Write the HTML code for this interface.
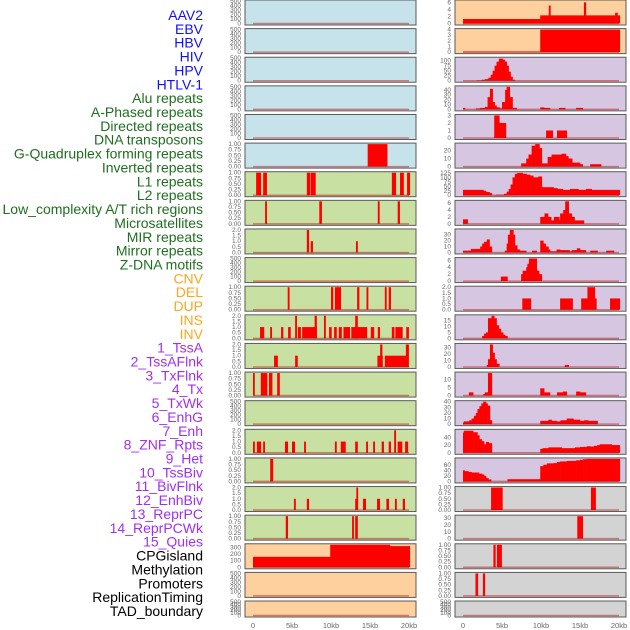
<!DOCTYPE html>
<html><head><meta charset="utf-8"><style>
html,body{margin:0;padding:0;background:#fff;}
svg{display:block;font-family:"Liberation Sans",sans-serif;}
</style></head><body>
<svg id="chart" width="630" height="630" viewBox="0 0 630 630"></svg>
<script>
// ---------- data ----------
const labelNames = ["AAV2","EBV","HBV","HIV","HPV","HTLV-1","Alu repeats","A-Phased repeats","Directed repeats","DNA transposons","G-Quadruplex forming repeats","Inverted repeats","L1 repeats","L2 repeats","Low_complexity A/T rich regions","Microsatellites","MIR repeats","Mirror repeats","Z-DNA motifs","CNV","DEL","DUP","INS","INV","1_TssA","2_TssAFlnk","3_TxFlnk","4_Tx","5_TxWk","6_EnhG","7_Enh","8_ZNF_Rpts","9_Het","10_TssBiv","11_BivFlnk","12_EnhBiv","13_ReprPC","14_ReprPCWk","15_Quies","CPGisland","Methylation","Promoters","ReplicationTiming","TAD_boundary"];
const labelGroups = [0,0,0,0,0,0,1,1,1,1,1,1,1,1,1,1,1,1,1,2,2,2,2,2,3,3,3,3,3,3,3,3,3,3,3,3,3,3,3,4,4,4,4,4];
const groupColors = ["#1010ff","#1f6f1f","#ffa520","#a030f0","#000000"];
const xTickLabels = ["0","5kb","10kb","15kb","20kb"];
const xTickValues = [0,5,10,15,20];

const ticksEmpty = ["0","100","200","300","400","500"];
const ticksUnit = ["0.00","0.25","0.50","0.75","1.00"];
const ticksTwo = ["0.0","0.5","1.0","1.5","2.0"];

// left column segments [startKb, endKb, value]
const segHTLV = [[14.7,17.2,1]];
const segAlu = [[0.4,1.0,1],[1.3,1.75,1],[6.9,7.3,1],[7.4,8.0,1],[17.8,18.3,1],[18.85,19.3,1],[19.75,20.1,1]];
const segAPhased = [[1.55,1.75,1],[8.5,8.8,1],[16.0,16.2,1],[18.55,18.8,1]];
const segDirected = [[6.9,7.15,2],[7.4,7.65,1],[13.2,13.4,1]];
const segGQuad = [[4.45,4.65,1],[10.0,10.25,1],[10.5,11.25,1],[13.35,13.6,1],[14.55,14.75,1],[16.9,17.1,1],[17.4,17.65,1]];
const segInverted = [[0.9,1.4,1],[2.2,2.4,1],[3.6,3.85,1],[4.5,4.8,1],[5.4,5.6,2],[5.75,6.1,1],[6.3,8.15,1],[7.9,8.15,2],[9.1,9.3,2],[9.75,10.05,1],[10.4,10.7,1],[11.0,11.35,1],[11.6,12.4,1],[12.6,14.6,1],[13.1,13.4,2],[15.1,15.5,1],[16.0,16.25,1],[17.8,18.1,1],[18.25,19.15,1],[19.65,19.95,1]];
const segL1 = [[2.7,3.15,1],[5.4,5.7,1],[15.95,16.6,1],[16.3,16.55,2],[16.9,19.8,1],[19.6,19.95,2]];
const segL2 = [[0,0.1,1],[1.0,1.8,1],[2.05,2.45,1],[3.1,3.4,1]];
const segMicro = [[0,0.2,1],[0.5,1.0,1],[1.3,1.5,1],[4.1,4.45,1],[5.0,5.35,1],[6.55,6.75,1],[10.5,10.7,1],[11.25,11.85,1],[13.1,13.4,1],[14.5,14.7,1],[15.4,15.6,1],[16.5,16.75,1],[17.4,17.65,1],[18.1,18.3,2],[18.55,19.1,1],[19.5,19.85,1]];
const segMIR = [[2.2,2.55,1]];
const segMirror = [[5.25,5.45,1],[6.9,7.15,1],[13.1,13.4,1],[13.25,13.4,2],[14.1,14.45,1],[15.9,16.25,1],[17.1,17.4,1],[18.2,18.4,1],[19.2,19.45,1]];
const segZDNA = [[4.2,4.45,1],[12.7,12.9,1],[13.1,13.4,1]];
const segCNV = [[0,9.9,158],[9.9,17.55,340],[17.55,20.1,320]];

// right column step profiles [startKb, value] (value held until next step)
const stepINS = [[0,1.3],[9.9,2.35],[11.0,5.2],[11.2,2.35],[15.5,6.1],[15.75,2.35],[19.5,3.1],[19.8,2.35],[20.1,0]];
const stepINV = [[0,0.1],[9.9,4],[20.1,0]];
const stepTssA = [[1.75,2],[2.4,5],[2.8,8],[3.25,15],[3.55,30],[3.8,50],[4.05,75],[4.3,95],[4.6,110],[5.1,105],[5.35,95],[5.6,75],[5.85,45],[6.1,20],[6.35,5],[6.65,0]];
const stepTssAFlnk = [[0,3],[0.25,0],[1.65,2],[2.2,3],[2.8,5],[3.15,25],[3.45,42],[3.8,15],[4.05,8],[4.3,4],[4.75,2],[5.0,15],[5.4,40],[5.6,46],[6.0,25],[6.35,3],[6.9,0],[9.9,4],[10.4,3],[11.15,0],[12.3,3],[13.1,0],[14.5,3],[15.35,0]];
const stepTxFlnk = [[4.0,3],[4.65,2],[5.5,0],[10.65,1],[11.5,0],[12.05,1],[13.3,0]];
const stepTx = [[7.45,4],[8.1,10],[8.4,15],[8.8,26],[9.25,28],[9.8,23],[10.1,4],[10.85,12],[11.35,15],[12.65,16],[13.2,13],[13.5,10],[14.0,5],[15.0,3],[15.35,0],[16.3,3],[17.7,0]];
const stepTxWk = [[0,30],[2.6,25],[2.95,18],[3.4,12],[3.7,0],[4.2,3],[5.25,8],[5.6,20],[5.85,35],[6.1,60],[6.35,100],[6.65,120],[6.95,125],[7.65,120],[8.15,115],[8.6,110],[9.0,100],[9.65,105],[10.1,45],[11.6,40],[12.1,35],[12.8,30],[13.7,35],[14.8,30],[15.75,35],[16.5,30],[20.1,0]];
const stepEnhG = [[0,1.3],[0.6,0],[9.9,2],[10.45,3],[10.9,2],[11.3,1],[11.65,2],[12.35,1],[12.45,3],[12.85,4],[13.1,6.5],[13.55,3],[13.95,2],[14.3,1],[15.5,0]];
const stepEnh = [[0,3],[1.0,6],[2.2,10],[2.45,15],[2.7,18],[3.05,22],[3.4,10],[3.7,0],[5.35,3],[5.6,15],[5.75,30],[6.0,38],[6.45,30],[6.65,12],[6.95,5],[7.3,3],[8.1,0],[8.85,3],[9.45,0],[9.9,20],[10.3,15],[10.6,10],[10.95,5],[11.15,2],[12.0,5],[12.45,4],[13.65,2],[13.95,4],[14.6,7],[15.0,4],[15.75,0],[16.3,3],[17.25,0],[18.35,3],[19.35,0]];
const stepZNF = [[4.85,1.3],[5.7,0],[7.45,2],[7.65,3],[8.1,4],[8.25,5],[8.45,6.5],[9.45,3],[9.75,2],[10.1,0]];
const stepHet = [[7.6,1],[8.7,0],[12.45,1],[14.05,0],[15.15,1],[15.95,2],[16.9,1],[17.1,0],[18.85,1],[20.1,0]];
const stepTssBiv = [[2.45,2],[2.7,4],[2.95,5],[3.2,17],[3.65,19],[4.0,17],[4.3,11],[4.6,8],[4.85,5],[5.15,3],[5.4,2],[5.7,0]];
const stepBivFlnk = [[3.05,3],[3.2,12],[3.45,35],[3.8,22],[4.05,12],[4.3,5],[4.65,0],[13.05,3],[13.55,0]];
const stepEnhBiv = [[0.75,2],[1.3,0],[2.6,1],[2.8,2],[3.2,14],[3.7,0],[9.9,4.5],[10.4,2],[11.15,0],[12.05,2],[12.8,2.5],[13.3,0],[14.5,2.5],[15.0,2],[15.75,0]];
const stepReprPC = [[0,3],[0.1,5],[0.8,7],[1.1,10],[1.4,15],[1.65,20],[1.85,27],[2.1,32],[2.35,37],[2.6,40],[2.95,37],[3.15,33],[3.45,7],[3.7,0],[9.9,6],[10.95,8],[11.35,6],[12.0,5],[12.5,7],[13.3,10],[14.15,8],[15.0,6],[15.5,7],[16.05,6],[17.25,0]];
const stepReprPCWk = [[0,52],[0.1,57],[1.3,53],[1.85,45],[2.1,35],[2.4,30],[2.7,22],[2.95,28],[3.3,25],[3.7,0],[9.9,10],[10.2,12],[10.95,14],[12.65,12],[14.35,14],[15.0,15],[15.85,17],[16.3,16],[16.75,18],[17.2,20],[17.55,22],[19.05,20],[20.1,0]];
const stepQuies = [[0,40],[0.2,37],[0.7,34],[1.1,32],[2.05,28],[2.45,25],[2.7,20],[2.95,12],[3.25,7],[3.6,0],[5.7,8],[9.9,55],[10.3,60],[10.75,65],[11.6,66],[12.05,70],[12.45,72],[13.3,74],[14.5,76],[15.0,78],[15.4,80],[15.85,81],[20.1,0]];
const segCPG = [[3.6,5.05,1],[16.4,17.0,1]];
const segMeth = [[14.65,15.35,33]];
const segPromoters = [[3.9,4.15,1],[4.35,4.95,1]];
const segRepTiming = [[1.6,1.9,1],[2.55,2.8,1]];

const BLUE="#c6e3eb", GREEN="#c8e0a2", PEACH="#fed09e", LAV="#d7c6e2", GRAY="#d3d3d3";
const leftPanels = [
 {bg:BLUE,max:500,ticks:ticksEmpty},
 {bg:BLUE,max:500,ticks:ticksEmpty},
 {bg:BLUE,max:500,ticks:ticksEmpty},
 {bg:BLUE,max:500,ticks:ticksEmpty},
 {bg:BLUE,max:500,ticks:ticksEmpty},
 {bg:BLUE,max:1,ticks:ticksUnit,segs:segHTLV},
 {bg:GREEN,max:1,ticks:ticksUnit,segs:segAlu},
 {bg:GREEN,max:1,ticks:ticksUnit,segs:segAPhased},
 {bg:GREEN,max:2,ticks:ticksTwo,segs:segDirected},
 {bg:GREEN,max:500,ticks:ticksEmpty},
 {bg:GREEN,max:1,ticks:ticksUnit,segs:segGQuad},
 {bg:GREEN,max:2,ticks:ticksTwo,segs:segInverted},
 {bg:GREEN,max:2,ticks:ticksTwo,segs:segL1},
 {bg:GREEN,max:1,ticks:ticksUnit,segs:segL2},
 {bg:GREEN,max:500,ticks:ticksEmpty},
 {bg:GREEN,max:2,ticks:ticksTwo,segs:segMicro},
 {bg:GREEN,max:1,ticks:ticksUnit,segs:segMIR},
 {bg:GREEN,max:2,ticks:ticksTwo,segs:segMirror},
 {bg:GREEN,max:1,ticks:ticksUnit,segs:segZDNA},
 {bg:PEACH,max:340,ticks:["0","100","200","300"],segs:segCNV},
 {bg:PEACH,max:500,ticks:ticksEmpty},
 {bg:PEACH,max:500,ticks:ticksEmpty}
];
const rightPanels = [
 {bg:PEACH,max:6.5,ticks:["0","2","4","6"],steps:stepINS},
 {bg:PEACH,max:4,ticks:["0","1","2","3","4"],steps:stepINV},
 {bg:LAV,max:112,ticks:["0","25","50","75","100"],steps:stepTssA},
 {bg:LAV,max:46,ticks:["0","10","20","30","40"],steps:stepTssAFlnk},
 {bg:LAV,max:3,ticks:["0","1","2","3"],steps:stepTxFlnk},
 {bg:LAV,max:28,ticks:["0","10","20"],steps:stepTx},
 {bg:LAV,max:126,ticks:["0","25","50","75","100","125"],steps:stepTxWk},
 {bg:LAV,max:6.5,ticks:["0","2","4","6"],steps:stepEnhG},
 {bg:LAV,max:38,ticks:["0","10","20","30"],steps:stepEnh},
 {bg:LAV,max:6.5,ticks:["0","2","4","6"],steps:stepZNF},
 {bg:LAV,max:2,ticks:ticksTwo,steps:stepHet},
 {bg:LAV,max:19,ticks:["0","5","10","15"],steps:stepTssBiv},
 {bg:LAV,max:35,ticks:["0","10","20","30"],steps:stepBivFlnk},
 {bg:LAV,max:14,ticks:["0","5","10"],steps:stepEnhBiv},
 {bg:LAV,max:40,ticks:["0","10","20","30","40"],steps:stepReprPC},
 {bg:LAV,max:58,ticks:["0","20","40"],steps:stepReprPCWk},
 {bg:LAV,max:81,ticks:["0","20","40","60"],steps:stepQuies},
 {bg:GRAY,max:1,ticks:ticksUnit,segs:segCPG},
 {bg:GRAY,max:33,ticks:["0","10","20","30"],segs:segMeth},
 {bg:GRAY,max:1,ticks:ticksUnit,segs:segPromoters},
 {bg:GRAY,max:1,ticks:ticksUnit,segs:segRepTiming},
 {bg:GRAY,max:500,ticks:ticksEmpty}
];

// ---------- drawing ----------
const NS="http://www.w3.org/2000/svg";
const svg=document.getElementById('chart');
function mk(tag,attrs,parent){const e=document.createElementNS(NS,tag);for(const k in attrs)e.setAttribute(k,attrs[k]);(parent||svg).appendChild(e);return e;}
const ROW_STEP=28.62, KB_PX=7.8;
const cols=[{x0:245,x1:416,origin:253,panels:leftPanels,start:0},{x0:455,x1:626,origin:463,panels:rightPanels,start:22}];

labelNames.forEach((n,i)=>{
  const t=mk('text',{x:203,y:15+i*13.86,'text-anchor':'end','dominant-baseline':'central','font-size':'14',fill:groupColors[labelGroups[i]]});
  t.textContent=n;
  
  
});

cols.forEach((c,ci)=>{
  const xs=kb=>c.origin+kb*KB_PX;
  c.panels.forEach((p,ri)=>{
    const top=ri*ROW_STEP;
    const h=(ri===21)?16:25;
    const yZero=top+h-1.5, yTop=top+1;
    const ys=v=>yZero-(v/p.max)*(yZero-yTop);
    const name=labelNames[c.start+ri].toLowerCase().replace(/[^a-z0-9]+/g,'-');
    const g=mk('g',{});
    
    
    const bg=mk('rect',{x:c.x0,y:top,width:c.x1-c.x0,height:h,fill:p.bg,stroke:'#5a5a5a','stroke-width':1},g);
    
    
    p.ticks.forEach((tl,ti)=>{
      const v=parseFloat(tl);
      const t=mk('text',{x:c.x0-4,y:ys(v)+2,'text-anchor':'end','font-size':'6.5',fill:'#666'},g);
      t.textContent=tl;
      
      
    });
    let segs=[];
    if(p.segs) segs=p.segs;
    if(p.steps){for(let k=0;k<p.steps.length-1;k++){segs.push([p.steps[k][0],p.steps[k+1][0],p.steps[k][1]]);}}
    segs.forEach(s=>{
      if(s[2]<=0) return;
      const x=xs(s[0]), w=Math.max(1.5,xs(s[1])-xs(s[0]));
      const r=mk('rect',{x:x,y:ys(s[2]),width:w+0.3,height:yZero-ys(s[2]),fill:'#ff0000'},g);
      
      
    });
    const bl=mk('line',{x1:xs(0),x2:xs(20),y1:yZero,y2:yZero,stroke:'rgba(190,0,0,0.45)','stroke-width':1.5},g);
    
    
  });
  xTickValues.forEach((v,i)=>{
    const t=mk('text',{x:xs(v),y:628,'text-anchor':'middle','font-size':'7.5',fill:'#666'});
    t.textContent=xTickLabels[i];
    
    
  });
});
</script>
</body></html>
